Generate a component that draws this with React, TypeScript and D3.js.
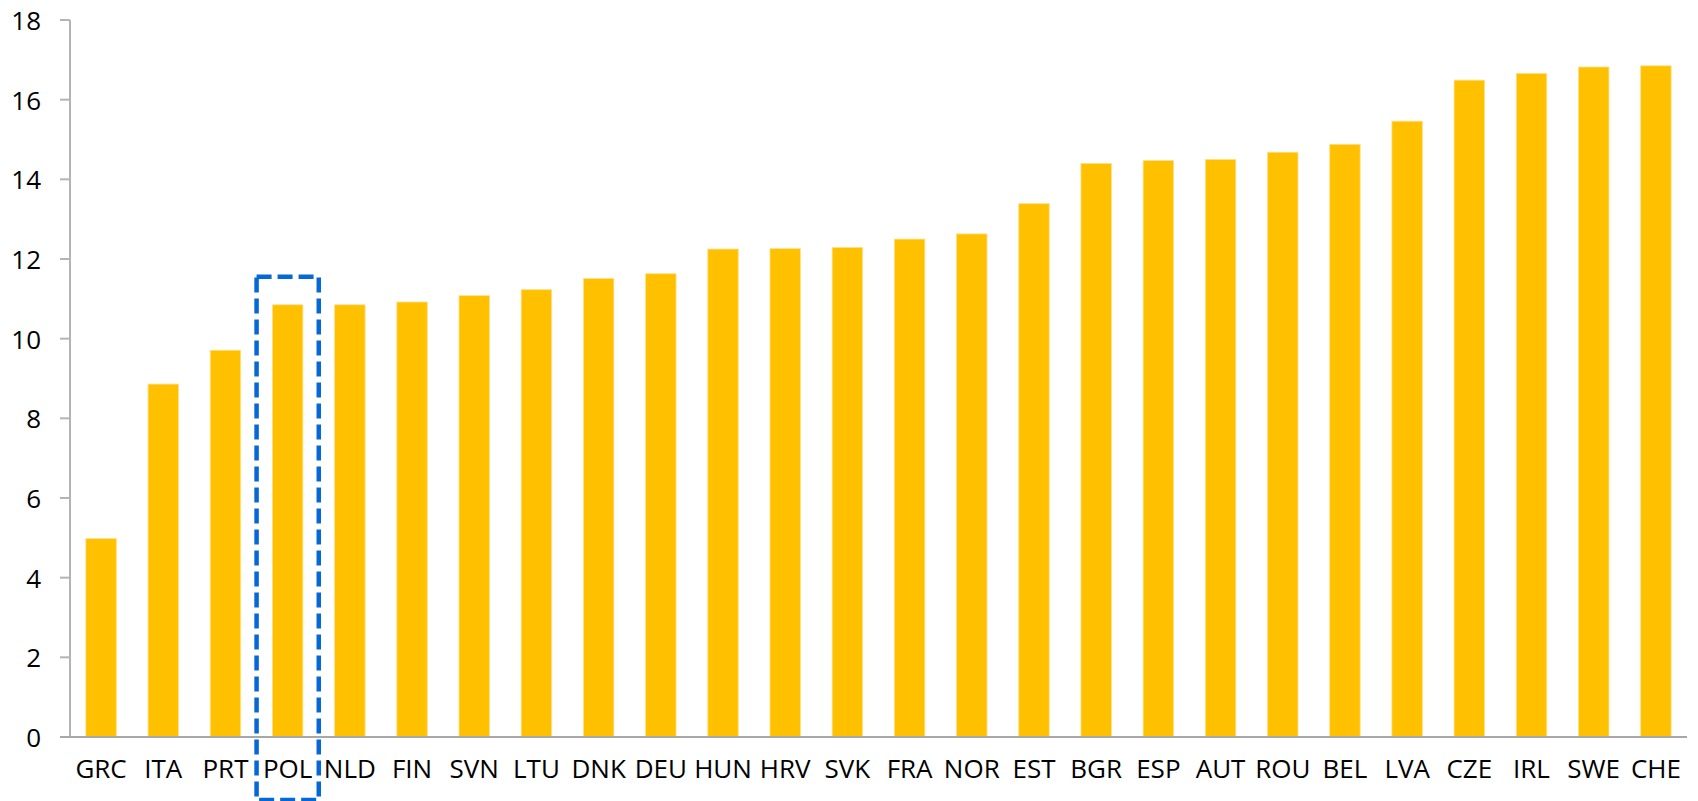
import React from "react";
import * as d3 from "d3";

// Country codes, ordered from lowest to highest value
const countries: string[] = [
  "GRC", "ITA", "PRT", "POL", "NLD", "FIN", "SVN", "LTU", "DNK", "DEU",
  "HUN", "HRV", "SVK", "FRA", "NOR", "EST", "BGR", "ESP", "AUT", "ROU",
  "BEL", "LVA", "CZE", "IRL", "SWE", "CHE",
];

const values: number[] = [
  4.98, 8.86, 9.71, 10.85, 10.85, 10.92, 11.08, 11.23, 11.51, 11.63,
  12.25, 12.26, 12.29, 12.5, 12.63, 13.39, 14.4, 14.47, 14.5, 14.68,
  14.88, 15.46, 16.49, 16.66, 16.82, 16.85,
];

const yTicks: number[] = [0, 2, 4, 6, 8, 10, 12, 14, 16, 18];

// Country singled out with a dashed frame
const highlighted = "POL";

const WIDTH = 1698;
const HEIGHT = 801;
const margin = { left: 70, right: 11, top: 20, bottom: 64 };

const FONT = "'Open Sans', 'Noto Sans', sans-serif";

export default function App() {
  const x = d3
    .scaleBand<string>()
    .domain(countries)
    .range([margin.left, WIDTH - margin.right])
    .paddingInner(0.51)
    .paddingOuter(0.255);

  const y = d3
    .scaleLinear()
    .domain([0, 18])
    .range([HEIGHT - margin.bottom, margin.top]);

  const step = x.step();
  const hiIndex = countries.indexOf(highlighted);
  const hiLeft = (x(highlighted) ?? 0) - (step - x.bandwidth()) / 2;
  const hiTop = y(values[hiIndex]) - 28;
  const hiBottom = HEIGHT - 1;

  return (
    <svg
      width={WIDTH}
      height={HEIGHT}
      style={{ position: "absolute", left: 0, top: 0, background: "#fff" }}
      fontFamily={FONT}
    >
      {/* bars */}
      {countries.map((c, i) => (
        <rect
          key={c}
          x={x(c)}
          y={y(values[i])}
          width={x.bandwidth()}
          height={y(0) - y(values[i])}
          fill="#FFC000"
          stroke="#FFE08C"
          strokeWidth={0.8}
        />
      ))}

      {/* y axis */}
      <line
        x1={margin.left}
        x2={margin.left}
        y1={y(18)}
        y2={y(0)}
        stroke="#B4B4B4"
        strokeWidth={2}
      />
      {yTicks.map((t) => (
        <g key={t}>
          <line
            x1={margin.left - 10}
            x2={margin.left}
            y1={y(t)}
            y2={y(t)}
            stroke="#B4B4B4"
            strokeWidth={2}
          />
          <text
            x={41}
            y={y(t)}
            textAnchor="end"
            dominantBaseline="central"
            fontSize={26}
            fill="#000"
          >
            {t}
          </text>
        </g>
      ))}

      {/* x axis */}
      <line
        x1={margin.left - 10}
        x2={WIDTH - margin.right}
        y1={y(0)}
        y2={y(0)}
        stroke="#A8A8A8"
        strokeWidth={2}
      />
      {countries.map((c) => (
        <text
          key={c}
          x={(x(c) ?? 0) + x.bandwidth() / 2}
          y={778}
          textAnchor="middle"
          fontSize={26}
          fill="#000"
        >
          {c}
        </text>
      ))}

      {/* dashed frame around the highlighted country */}
      <rect
        x={hiLeft}
        y={hiTop}
        width={step}
        height={hiBottom - hiTop}
        fill="none"
        stroke="#0668D6"
        strokeWidth={4.5}
        strokeDasharray="15 6"
      />
    </svg>
  );
}
